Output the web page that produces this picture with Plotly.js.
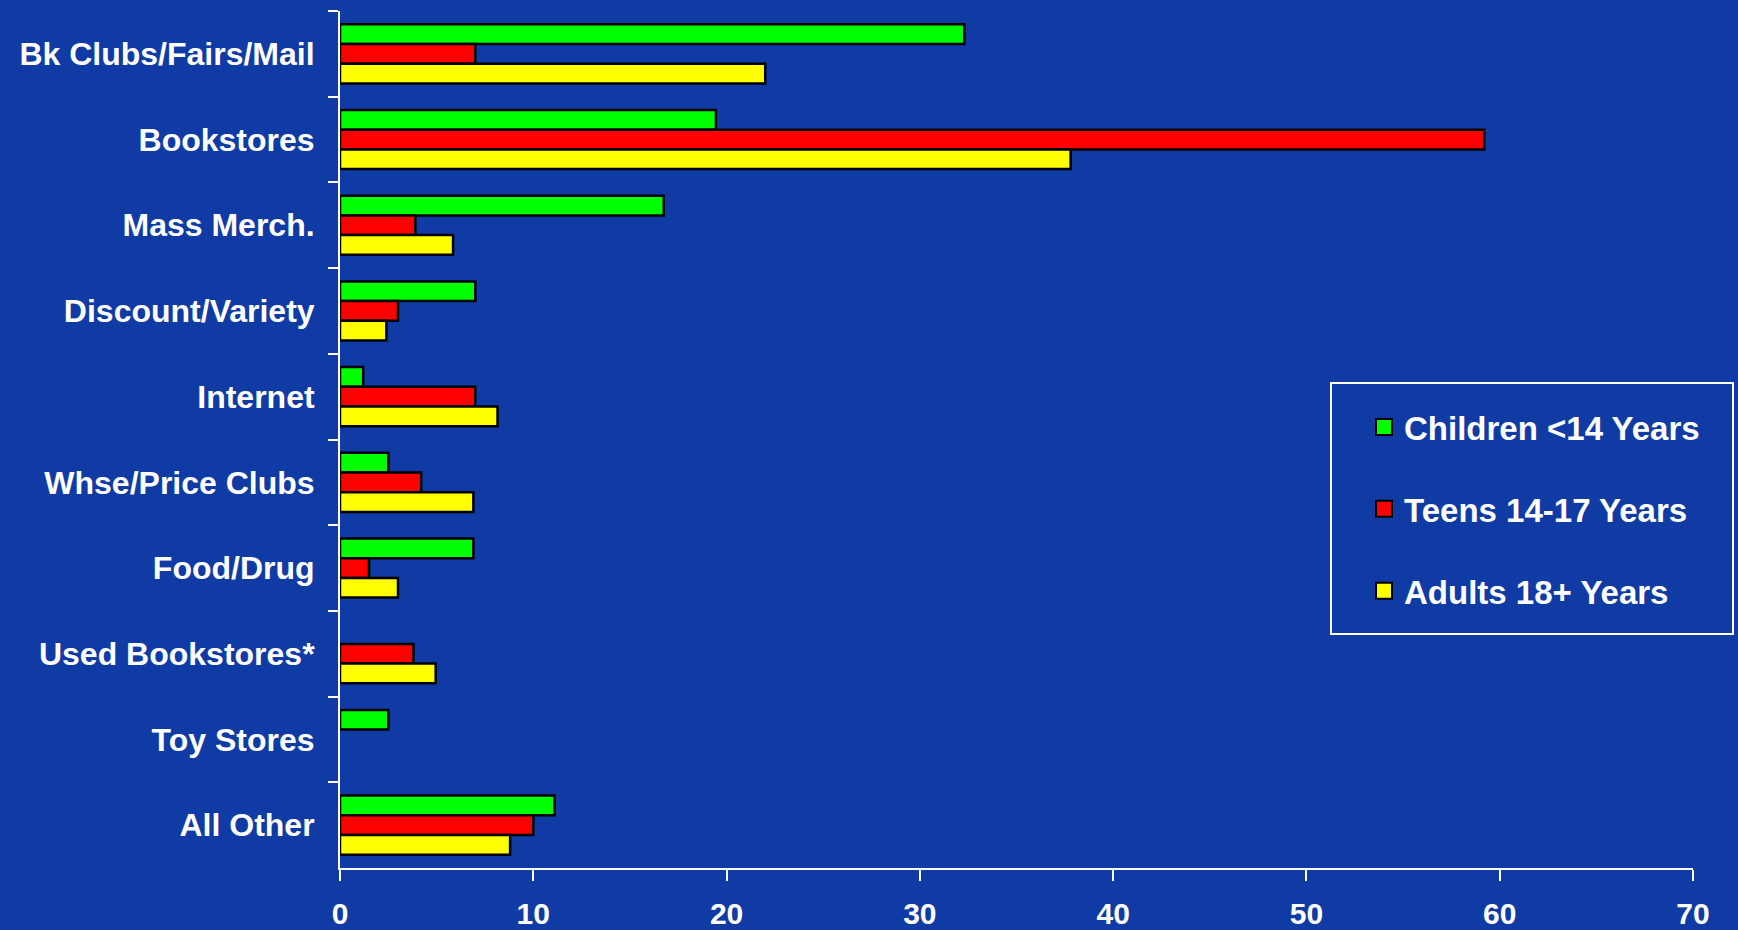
<!DOCTYPE html>
<html>
<head>
<meta charset="utf-8">
<script src="https://cdn.plot.ly/plotly-3.0.1.min.js"></script>
<style>
  html, body { margin: 0; padding: 0; background: #103ba5; }
  #chart { width: 1738px; height: 930px; }
</style>
</head>
<body>
<div id="chart"></div>
<script>
// Outlets where books were bought, by age group of the reader (%)
const outlets = [
  "Bk Clubs/Fairs/Mail", "Bookstores", "Mass Merch.", "Discount/Variety",
  "Internet", "Whse/Price Clubs", "Food/Drug", "Used Bookstores*",
  "Toy Stores", "All Other"
];
const children = [32.3, 19.45, 16.75, 7.0, 1.2, 2.5, 6.9, null, 2.5, 11.1];
const teens    = [7.0, 59.2, 3.9, 3.0, 7.0, 4.2, 1.5, 3.8, null, 10.0];
const adults   = [22.0, 37.8, 5.85, 2.4, 8.15, 6.9, 3.0, 4.95, null, 8.8];

const seriesNames = ["Children <14 Years", "Teens 14-17 Years", "Adults 18+ Years"];
const seriesColors = ["#00ff00", "#ff0000", "#ffff00"];
const xTicks = [0, 10, 20, 30, 40, 50, 60, 70];

const BG = "#103ba5";
const FAMILY = "Liberation Sans, Arial, sans-serif";
const FONT = { family: FAMILY, size: 32, color: "#ffffff", weight: "bold" };

const seriesValues = [children, teens, adults];

// the bars themselves
const bars = seriesValues.map((vals, i) => ({
  type: "bar",
  orientation: "h",
  name: seriesNames[i],
  y: outlets,
  x: vals,
  marker: { color: seriesColors[i], line: { color: "#000000", width: 2.5 } },
  showlegend: false,
  hoverinfo: "x+name"
}));

// legend entries with larger square swatches
const keys = seriesValues.map((vals, i) => ({
  type: "scatter",
  mode: "markers",
  name: seriesNames[i],
  x: [null], y: [null],
  marker: { symbol: "square", size: 16, color: seriesColors[i], line: { color: "#000000", width: 2 } },
  legendgroup: "g" + i,
  hoverinfo: "skip"
}));

const W = 1738, H = 930;
const mL = 340, mR = 45, mT = 11, mB = 62;
const pw = W - mL - mR, ph = H - mT - mB;
// paper coordinates from pixel positions
const px = v => (v - mL) / pw;
const py = v => 1 - (v - mT) / ph;

const layout = {
  width: W, height: H,
  margin: { l: mL, r: mR, t: mT, b: mB, pad: 0 },
  paper_bgcolor: BG,
  plot_bgcolor: BG,
  font: FONT,
  barmode: "group",
  bargap: 0.31,
  bargroupgap: 0,
  showlegend: true,
  legend: {
    x: px(1364), y: py(399), xanchor: "left", yanchor: "top",
    bgcolor: "rgba(0,0,0,0)", borderwidth: 0,
    font: { family: FAMILY, size: 33, color: "#ffffff", weight: "bold" },
    traceorder: "grouped",
    tracegroupgap: 36
  },
  shapes: [{
    type: "rect", xref: "paper", yref: "paper",
    x0: px(1331), x1: px(1733), y0: py(383), y1: py(634),
    line: { color: "#ffffff", width: 2 }, fillcolor: "rgba(0,0,0,0)", layer: "above"
  }],
  xaxis: {
    range: [0, 70],
    tickvals: xTicks,
    ticktext: xTicks.map(String),
    ticks: "outside", ticklen: 11, tickwidth: 2, tickcolor: "#ffffff",
    showline: true, linecolor: "#ffffff", linewidth: 2,
    showgrid: false, zeroline: false,
    ticklabelstandoff: 7,
    tickfont: { family: FAMILY, size: 30, color: "#ffffff", weight: "bold" },
    fixedrange: true
  },
  yaxis: {
    type: "category",
    categoryorder: "array", categoryarray: outlets,
    autorange: "reversed",
    tickson: "boundaries",
    ticks: "outside", ticklen: 10, tickwidth: 2, tickcolor: "#ffffff",
    showline: true, linecolor: "#ffffff", linewidth: 2,
    showgrid: false, zeroline: false,
    ticklabelstandoff: 17,
    tickfont: FONT,
    fixedrange: true
  }
};

Plotly.newPlot("chart", bars.concat(keys), layout, { displayModeBar: false, staticPlot: true });
</script>
</body>
</html>
